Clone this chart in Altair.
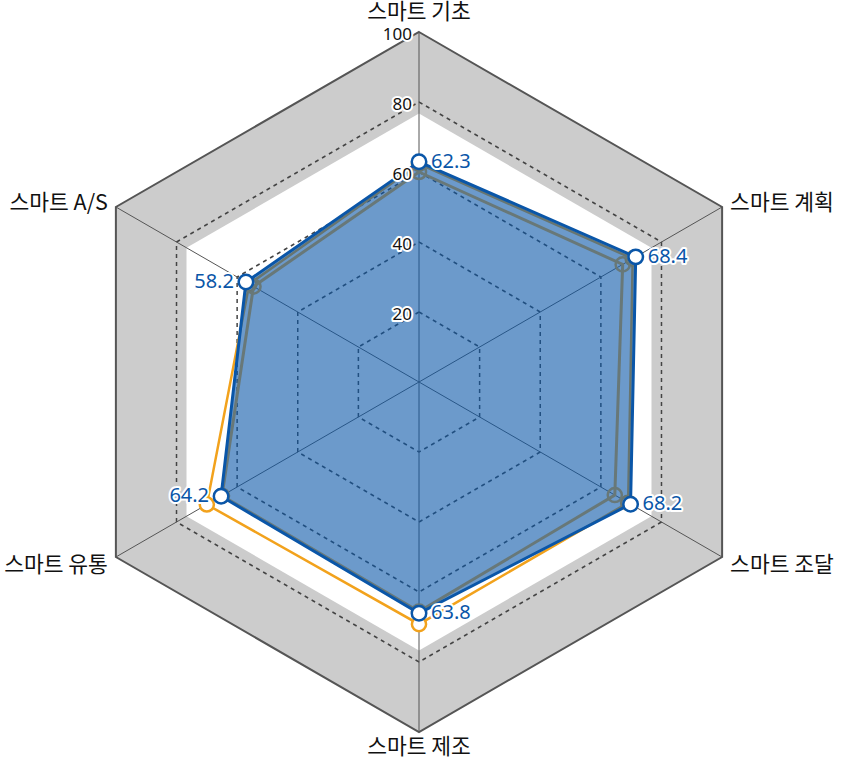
import math
import altair as alt
import pandas as pd

# ---------------- data ----------------
categories = ["스마트 기초", "스마트 계획", "스마트 조달", "스마트 제조", "스마트 유통", "스마트 A/S"]
blue_values = [62.9, 71.5, 69.8, 66.1, 65.3, 57.1]
blue_labels = ["62.3", "68.4", "68.2", "63.8", "64.2", "58.2"]
gray_values = [60.0, 67.2, 64.6, 65.6, 65.0, 54.6]
orange_values = [62.3, 70.5, 69.0, 69.2, 70.0, 56.0]
ring_levels = [20, 40, 60, 80]
tick_labels = [20, 40, 60, 80, 100]
band_limits = [76.7, 100]

FONT = "Noto Sans CJK KR"
NUM_FONT = "Noto Sans"
N = len(categories)


def xy(v, i):
    a = 2 * math.pi * i / N
    return v * math.sin(a), v * math.cos(a)


def polygon(values, name):
    rows = []
    for i, v in enumerate(values):
        x, y = xy(v, i)
        rows.append({"poly": name, "order": i, "x": x, "y": y, "v": v, "cat": categories[i]})
    return rows


X = alt.X("x:Q", scale=alt.Scale(domain=[-119.714, 120.571], nice=False, zero=False), axis=None)
Y = alt.Y("y:Q", scale=alt.Scale(domain=[-108.0, 109.143], nice=False, zero=False), axis=None)


def base(df):
    return alt.Chart(pd.DataFrame(df))


# background band
outer_df = polygon([band_limits[1]] * N, "outer")
inner_df = polygon([band_limits[0]] * N, "inner")

outer = base(outer_df).mark_line(
    interpolate="linear-closed", fill="#cccccc", stroke="#555555", strokeWidth=2
).encode(x=X, y=Y, order="order:Q")
inner = base(inner_df).mark_line(
    interpolate="linear-closed", fill="#ffffff", strokeOpacity=0
).encode(x=X, y=Y, order="order:Q")

ring_rows = []
for lv in ring_levels:
    ring_rows += polygon([lv] * N, f"r{lv}")
rings = base(ring_rows).mark_line(
    interpolate="linear-closed", stroke="#444444", strokeWidth=1.5, strokeDash=[4, 4]
).encode(x=X, y=Y, order="order:Q", detail="poly:N")

spoke_rows = []
for i in range(N):
    x, y = xy(100, i)
    spoke_rows.append({"x": 0.0, "y": 0.0, "x2": x, "y2": y})
spokes = base(spoke_rows).mark_rule(stroke="#555555", strokeWidth=1).encode(
    x=X, y=Y, x2="x2:Q", y2="y2:Q"
)

# series
orange_df = polygon(orange_values, "orange")
gray_df = polygon(gray_values, "gray")
blue_df = polygon(blue_values, "blue")

orange_line = base(orange_df).mark_line(
    interpolate="linear-closed", stroke="#f2a21c", strokeWidth=2.5
).encode(x=X, y=Y, order="order:Q")
orange_pts = base(orange_df).mark_point(
    shape="circle", size=200, filled=True, fill="#ffffff", stroke="#f2a21c", strokeWidth=2.5, opacity=1
).encode(x=X, y=Y)

blue_fill = base(blue_df).mark_line(
    interpolate="linear-closed", fill="#0a56a8", fillOpacity=0.6, strokeOpacity=0
).encode(x=X, y=Y, order="order:Q")

gray_line = base(gray_df).mark_line(
    interpolate="linear-closed", stroke="#687878", strokeWidth=3
).encode(x=X, y=Y, order="order:Q")
gray_pts = base(gray_df).mark_point(
    shape="circle", size=200, filled=False, stroke="#687878", strokeWidth=2.5, opacity=1
).encode(x=X, y=Y)

blue_line = base(blue_df).mark_line(
    interpolate="linear-closed", stroke="#0a56a8", strokeWidth=3
).encode(x=X, y=Y, order="order:Q")
blue_pts = base(blue_df).mark_point(
    shape="circle", size=210, filled=True, fill="#ffffff", stroke="#0a56a8", strokeWidth=2.5, opacity=1
).encode(x=X, y=Y)

# value labels
lab_rows = []
for i, (v, t) in enumerate(zip(blue_values, blue_labels)):
    x, y = xy(v, i)
    lab_rows.append({"x": x, "y": y, "t": t, "side": "L" if i in (4, 5) else "R"})
lab_df = pd.DataFrame(lab_rows)


def halo_text(df, filt, color, size, font, **kw):
    c = alt.Chart(df)
    if filt is not None:
        c = c.transform_filter(filt)
    h = c.mark_text(font=font, fontSize=size, fill="#ffffff", stroke="#ffffff", strokeWidth=4,
                    strokeJoin="round", baseline="middle", **kw).encode(x=X, y=Y, text="t:N")
    f = c.mark_text(font=font, fontSize=size, fill=color, baseline="middle", **kw).encode(
        x=X, y=Y, text="t:N")
    return [h, f]


val_layers = []
val_layers += halo_text(lab_df, alt.datum.side == "R", "#0a56a8", 20, NUM_FONT, align="left", dx=12, dy=0)
val_layers += halo_text(lab_df, alt.datum.side == "L", "#0a56a8", 20, NUM_FONT, align="right", dx=-12, dy=0)

# tick labels on top spoke
tick_df = pd.DataFrame([{"x": 0.0, "y": float(t), "t": str(t)} for t in tick_labels])
tick_layers = halo_text(tick_df, None, "#111111", 17, NUM_FONT, align="right", dx=-7, dy=3)

# category labels
cat_rows = []
for i, c in enumerate(categories):
    x, y = xy(100, i)
    cat_rows.append({"x": x, "y": y, "t": c, "i": i})
cat_df = pd.DataFrame(cat_rows)
cat_specs = [
    (0, "center", 0, -19),
    (1, "left", 8, -3),
    (2, "left", 8, 9),
    (3, "center", 0, 16),
    (4, "right", -8, 9),
    (5, "right", -8, -3),
]
cat_layers = []
for i, al, dx, dy in cat_specs:
    cat_layers.append(
        alt.Chart(cat_df).transform_filter(alt.datum.i == i).mark_text(
            font=FONT, fontSize=21.5, fill="#111111", align=al, baseline="middle", dx=dx, dy=dy
        ).encode(x=X, y=Y, text="t:N")
    )

chart = alt.layer(
    outer, inner, rings, spokes,
    orange_line, orange_pts,
    blue_fill,
    gray_line, gray_pts,
    blue_line, blue_pts,
    *val_layers, *tick_layers, *cat_layers,
).properties(
    width=841, height=760, padding=0, autosize=alt.AutoSizeParams(type="none")
).configure_view(stroke=None)

chart.save("out.html", embed_options={"renderer": "svg", "actions": False})
